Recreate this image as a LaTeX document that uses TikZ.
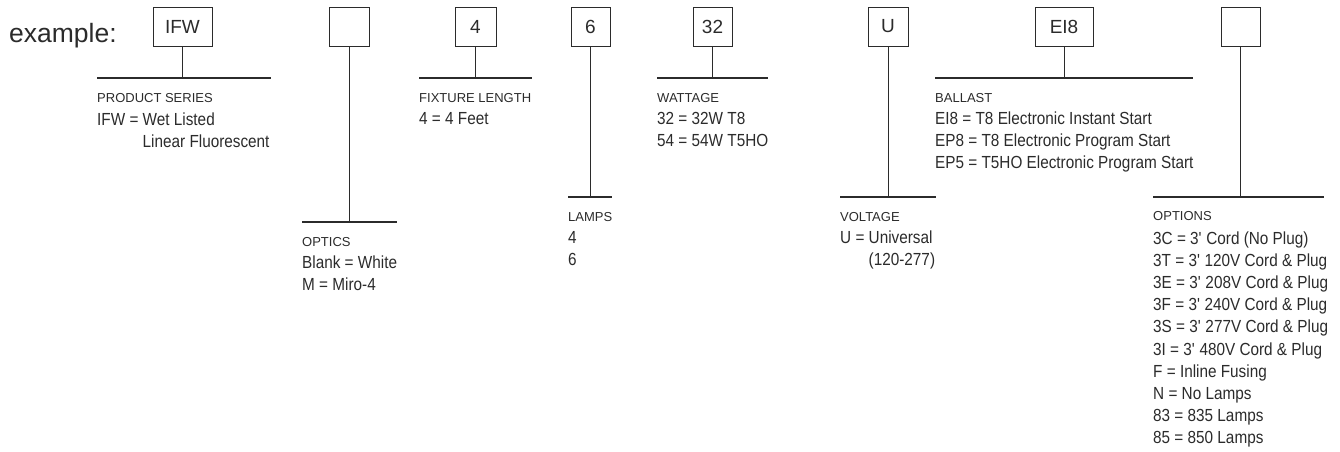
\documentclass[tikz,border=0pt]{standalone}
\usepackage{fontspec}
\setmainfont{Liberation Sans}
\newfontfamily\valfont{Liberation Sans}[FakeStretch=0.875]
\definecolor{ink}{HTML}{2B2B2B}
\begin{document}
\begin{tikzpicture}[x=1pt,y=-1pt,
  box/.style={draw=ink, line width=1pt, inner sep=0pt, minimum height=39pt, font=\fontsize{19}{19}\selectfont, text=ink},
  rule/.style={draw=ink, line width=1.3pt},
  stem/.style={draw=ink, line width=1pt},
  capt/.style={anchor=base west, inner sep=0pt, font=\fontsize{13}{13}\selectfont, text=ink},
  val/.style={anchor=base west, inner sep=0pt, font=\valfont\fontsize{17.5}{17.5}\selectfont, text=ink}]
\useasboundingbox (0,0) rectangle (1340,451);

\node[anchor=base west, inner sep=0pt, text=ink, font=\fontsize{26.5}{26.5}\selectfont] (ex) at (9,42.7) {example:};

% boxes
\node[box, minimum width=59pt] (b1) at (182.5,26.5) {IFW};
\node[box, minimum width=40pt] (b2) at (349,26.5) {};
\node[box, minimum width=41pt] (b3) at (475.5,26.5) {4};
\node[box, minimum width=39pt] (b4) at (590.5,26.5) {6};
\node[box, minimum width=39pt] (b5) at (712.5,26.5) {32};
\node[box, minimum width=40pt] (b6) at (888,26.5) {U};
\node[box, minimum width=58pt] (b7) at (1064,26.5) {EI8};
\node[box, minimum width=39pt] (b8) at (1240.5,26.5) {};

% rules
\coordinate (l1) at (97,78);   \coordinate (r1) at (271,78);
\coordinate (l2) at (302,222); \coordinate (r2) at (397,222);
\coordinate (l3) at (419,78);  \coordinate (r3) at (532,78);
\coordinate (l4) at (568,197); \coordinate (r4) at (612,197);
\coordinate (l5) at (657,78);  \coordinate (r5) at (768,78);
\coordinate (l6) at (840,197); \coordinate (r6) at (936,197);
\coordinate (l7) at (935,78);  \coordinate (r7) at (1193,78);
\coordinate (l8) at (1153,197);\coordinate (r8) at (1324,197);
\foreach \k in {1,...,8}{
  \draw[rule] (l\k) -- (r\k);
  \draw[stem] (b\k.south) -- (b\k.south |- l\k);
}

% block 1
\node[capt] (t1) at (97,102) {PRODUCT SERIES};
\node[val] (v1a) at (97,125) {IFW = Wet Listed};
\node[val] (v1b) at (97,147) {\phantom{IFW = }Linear Fluorescent};
% block 2
\node[capt] (t2) at (302,246) {OPTICS};
\node[val] (v2a) at (302,268) {Blank = White};
\node[val] (v2b) at (302,290) {M = Miro-4};
% block 3
\node[capt] (t3) at (419,102) {FIXTURE LENGTH};
\node[val] (v3a) at (419,124) {4 = 4 Feet};
% block 4
\node[capt] (t4) at (568,221) {LAMPS};
\node[val] (v4a) at (568,243) {4};
\node[val] (v4b) at (568,265) {6};
% block 5
\node[capt] (t5) at (657,102) {WATTAGE};
\node[val] (v5a) at (657,124) {32 = 32W T8};
\node[val] (v5b) at (657,146) {54 = 54W T5HO};
% block 6
\node[capt] (t6) at (840,221) {VOLTAGE};
\node[val] (v6a) at (840,243) {U = Universal};
\node[val] (v6b) at (840,265) {\phantom{U = }(120-277)};
% block 7
\node[capt] (t7) at (935,102) {BALLAST};
\node[val] (v7a) at (935,124) {EI8 = T8 Electronic Instant Start};
\node[val] (v7b) at (935,146) {EP8 = T8 Electronic Program Start};
\node[val] (v7c) at (935,168) {EP5 = T5HO Electronic Program Start};
% block 8
\node[capt] (t8) at (1153,220) {OPTIONS};
\foreach \txt [count=\i] in {
  {3C = 3\textquotesingle\ Cord (No Plug)},
  {3T = 3\textquotesingle\ 120V Cord \& Plug},
  {3E = 3\textquotesingle\ 208V Cord \& Plug},
  {3F = 3\textquotesingle\ 240V Cord \& Plug},
  {3S = 3\textquotesingle\ 277V Cord \& Plug},
  {3I = 3\textquotesingle\ 480V Cord \& Plug},
  {F = Inline Fusing},
  {N = No Lamps},
  {83 = 835 Lamps},
  {85 = 850 Lamps}}
  \node[val] (v8-\i) at (1153,{244+22.2*(\i-1)}) {\txt};
\end{tikzpicture}
\end{document}
